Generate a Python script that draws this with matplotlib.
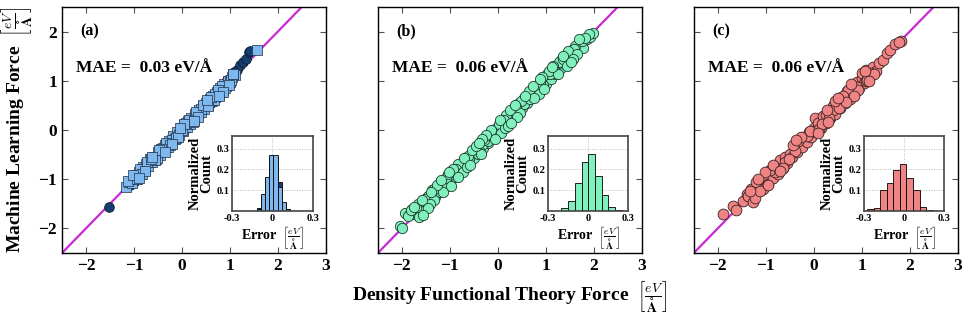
import matplotlib
matplotlib.use('Agg')
import matplotlib.pyplot as plt
import numpy as np

plt.rcParams['font.family'] = ['Liberation Serif', 'DejaVu Serif']
plt.rcParams['font.weight'] = 'bold'
plt.rcParams['axes.labelweight'] = 'bold'
plt.rcParams['mathtext.fontset'] = 'cm'

# ---- panel (a): two series, squares (light) and circles (dark)
a_sq_x = [-1.17, -1.1, -1.05, -0.98, -0.95, -0.9, -0.86, -0.82, -0.78, -0.74, -0.7, -0.66, -0.62, -0.58,
          -0.55, -0.5, -0.46, -0.42, -0.38, -0.35, -0.3, -0.27, -0.22, -0.18, -0.15, -0.1, -0.06, -0.02,
          0.02, 0.05, 0.1, 0.13, 0.17, 0.2, 0.25, 0.28, 0.32, 0.36, 0.4, 0.43, 0.47, 0.5, 0.54, 0.58,
          0.62, 0.65, 0.7, 0.73, 0.77, 0.8, 0.85, 0.88, 0.92, 0.96, 1.0, 1.04, 1.1, 1.57, -1.0, -0.8,
          -0.6, -0.4, -0.2, 0.0, 0.2, 0.4, 0.6, 0.8, 1.02, -0.88, -0.52, -0.12, 0.3, 0.7, 0.9,
          -1.12, -0.93, -0.72, -0.56, -0.33, -0.08, 0.08, 0.23, 0.45, 0.67, 0.83, 0.98, 1.07, -0.65, -0.25,
          0.15, 0.55, 0.75, -0.84, -0.44,
          -1.02, -0.76, -0.48, -0.2, 0.04, 0.34, 0.6, 0.86, 1.06, -0.9, -0.62, -0.36, -0.04, 0.26, 0.52, 0.78]
a_sq_y = [-1.15, -1.05, -1.08, -0.92, -1.0, -0.85, -0.9, -0.76, -0.82, -0.7, -0.74, -0.6, -0.66, -0.55,
          -0.6, -0.45, -0.5, -0.38, -0.42, -0.3, -0.34, -0.22, -0.26, -0.13, -0.18, -0.05, -0.1, 0.03,
          -0.02, 0.1, 0.06, 0.18, 0.13, 0.25, 0.21, 0.33, 0.28, 0.41, 0.36, 0.48, 0.43, 0.55, 0.5, 0.63,
          0.58, 0.7, 0.66, 0.78, 0.73, 0.86, 0.82, 0.93, 0.9, 1.0, 0.97, 1.07, 1.12, 1.62, -0.97, -0.79,
          -0.62, -0.37, -0.2, 0.0, 0.18, 0.42, 0.6, 0.78, 1.02, -0.8, -0.56, -0.16, 0.36, 0.74, 0.85,
          -1.04, -0.99, -0.66, -0.62, -0.27, -0.14, 0.14, 0.17, 0.51, 0.61, 0.89, 0.92, 1.13, -0.59, -0.31,
          0.21, 0.49, 0.81, -0.9, -0.38,
          -0.92, -0.84, -0.4, -0.28, 0.12, 0.26, 0.68, 0.78, 1.14, -0.98, -0.54, -0.44, 0.04, 0.18, 0.6, 0.7]
a_ci_x = [-1.53, -1.08, -1.0, -0.95, -0.85, -0.7, -0.6, -0.45, -0.3, -0.15, 0.0, 0.1, 0.25, 0.35,
          0.5, 0.6, 0.75, 0.85, 0.95, 1.08, 1.15, 1.22, 1.28, 1.33, 1.39, 1.43]
a_ci_y = [-1.57, -1.12, -1.05, -0.9, -0.92, -0.68, -0.66, -0.42, -0.36, -0.1, 0.05, 0.04, 0.3, 0.3,
          0.56, 0.55, 0.8, 0.8, 1.02, 1.18, 1.22, 1.33, 1.38, 1.45, 1.58, 1.6]

# ---- panel (b)
b_x = [-2.04, -2.0, -1.94, -1.85, -1.78, -1.72, -1.66, -1.6, -1.55, -1.5, -1.45, -1.4, -1.35, -1.3,
       -1.25, -1.2, -1.15, -1.1, -1.05, -1.0, -0.95, -0.9, -0.85, -0.8, -0.75, -0.7, -0.65, -0.6,
       -0.55, -0.5, -0.45, -0.4, -0.35, -0.3, -0.25, -0.2, -0.15, -0.1, -0.05, 0.0, 0.05, 0.1, 0.15,
       0.2, 0.25, 0.3, 0.35, 0.4, 0.45, 0.5, 0.55, 0.6, 0.65, 0.7, 0.75, 0.8, 0.85, 0.9, 0.95, 1.0,
       1.05, 1.1, 1.15, 1.2, 1.25, 1.3, 1.35, 1.4, 1.45, 1.5, 1.55, 1.6, 1.65, 1.72, 1.78, 1.85, 1.92,
       1.98, -1.5, -1.2, -0.9, -0.6, -0.3, 0.0, 0.3, 0.6, 0.9, 1.2, 1.5, -1.0, -0.5, 0.2, 0.7, 1.1,
       -0.2, 0.45, 0.95, 1.4, -1.62, -0.75, 0.1, 0.55,
       -1.88, -1.7, -1.52, -1.38, -1.22, -1.08, -0.97, -0.82, -0.68, -0.52, -0.42, -0.28, -0.12, 0.02,
       0.18, 0.32, 0.48, 0.62, 0.78, 0.88, 1.02, 1.18, 1.32, 1.48, 1.62, 1.75, 1.9, -1.32, -0.62, 0.38,
       1.28, -1.42, -0.88, -0.38, 0.12, 0.68, 1.08, 1.58, -1.12, -0.18, 0.82, 1.35,
       -1.8, -1.58, -1.34, -1.14, -0.94, -0.72, -0.54, -0.34, -0.14, 0.06, 0.26, 0.46, 0.66, 0.86,
       1.06, 1.26, 1.46, 1.66, 1.82, -1.64, -1.26, -0.84, -0.46, -0.06, 0.36, 0.76, 1.16, 1.56,
       -1.46, -1.04, -0.64, -0.24, 0.16, 0.56, 0.96, 1.36,
       -1.74, -1.4, -1.02, -0.7, -0.32, 0.04, 0.4, 0.74, 1.12, 1.44, 1.7, -1.18, -0.58, 0.22, 0.92,
       -1.56, -0.98, -0.4, 0.28, 0.88, 1.52]
b_y = [-1.96, -2.0, -1.69, -1.72, -1.6, -1.7, -1.5, -1.58, -1.43, -1.53, -1.34, -1.42, -1.26, -1.36,
       -1.16, -1.26, -1.06, -1.16, -0.96, -1.06, -0.86, -0.96, -0.76, -0.88, -0.68, -0.76, -0.58, -0.68,
       -0.48, -0.56, -0.38, -0.46, -0.28, -0.36, -0.18, -0.26, -0.08, -0.16, 0.02, -0.06, 0.14, 0.04,
       0.24, 0.14, 0.34, 0.24, 0.44, 0.34, 0.54, 0.44, 0.64, 0.54, 0.74, 0.64, 0.84, 0.74, 0.94, 0.84,
       1.04, 0.94, 1.14, 1.04, 1.22, 1.14, 1.32, 1.24, 1.42, 1.34, 1.52, 1.44, 1.62, 1.54, 1.68, 1.74,
       1.66, 1.84, 1.88, 1.98, -1.46, -1.18, -0.9, -0.58, -0.28, 0.04, 0.32, 0.62, 0.92, 1.22, 1.52,
       -0.92, -0.44, 0.28, 0.76, 1.16, -0.22, 0.42, 0.92, 1.38, -1.64, -0.78, 0.1, 0.52,
       -1.74, -1.58, -1.4, -1.22, -1.1, -0.98, -0.84, -0.7, -0.56, -0.42, -0.48, -0.2, -0.02, 0.12,
       0.3, 0.4, 0.58, 0.7, 0.88, 0.98, 1.14, 1.26, 1.42, 1.56, 1.7, 1.8, 1.95, -1.42, -0.52, 0.46,
       1.38, -1.5, -0.8, -0.44, 0.2, 0.62, 1.14, 1.64, -1.18, -0.1, 0.9, 1.44,
       -1.62, -1.42, -1.2, -1.26, -0.8, -0.86, -0.4, -0.48, 0.0, -0.06, 0.4, 0.34, 0.8, 0.74,
       1.2, 1.14, 1.6, 1.54, 1.86, -1.76, -1.12, -0.96, -0.32, -0.18, 0.5, 0.64, 1.3, 1.44,
       -1.58, -0.9, -0.76, -0.1, 0.04, 0.7, 0.84, 1.5,
       -1.56, -1.26, -0.86, -0.56, -0.18, 0.2, 0.26, 0.9, 1.28, 1.3, 1.84, -1.02, -0.72, 0.08, 1.08,
       -1.72, -1.14, -0.26, 0.14, 1.04, 1.38]

# ---- panel (c)
c_x = [-1.9, -1.69, -1.62, -1.48, -1.4, -1.37, -1.3, -1.27, -1.22, -1.17, -1.1, -1.05, -1.0, -0.95,
       -0.9, -0.85, -0.8, -0.75, -0.7, -0.65, -0.6, -0.55, -0.5, -0.45, -0.4, -0.35, -0.3, -0.25, -0.2,
       -0.15, -0.1, -0.05, 0.0, 0.02, 0.05, 0.1, 0.15, 0.2, 0.25, 0.3, 0.35, 0.4, 0.45, 0.5, 0.55, 0.6,
       0.65, 0.7, 0.75, 0.8, 0.85, 0.9, 0.95, 1.0, 1.05, 1.1, 1.15, 1.23, 1.3, 1.37, 1.45, 1.52, 1.6,
       1.69, 1.83, 1.78, -1.2, -0.8, -0.4, 0.0, 0.4, 0.8, 1.2, -0.6, 0.25, 0.6, -0.15, 0.9, 1.0, 1.1,
       -1.12, -0.92, -0.72, -0.52, -0.32, -0.08, 0.12, 0.32, 0.52, 0.72, 0.92, 1.12, -1.32, 0.62, 0.18,
       -1.02, -0.64, -0.26, 0.08, 0.44, 0.84, 1.26, -0.84, -0.44, 0.28, 0.68, 1.06,
       -1.16, -0.7, -0.36, 0.3, 0.78, 1.16, -0.96, 0.5]
c_y = [-1.71, -1.55, -1.62, -1.45, -1.3, -1.34, -1.2, -1.47, -1.38, -1.15, -1.05, -1.2, -0.98, -1.1,
       -0.85, -0.98, -0.75, -0.9, -0.62, -0.78, -0.55, -0.68, -0.48, -0.55, -0.35, -0.45, -0.28, -0.35,
       -0.15, -0.25, -0.05, -0.15, 0.05, 0.25, -0.05, 0.15, 0.05, 0.28, 0.15, 0.38, 0.25, 0.48, 0.32,
       0.58, 0.45, 0.68, 0.55, 0.8, 0.62, 0.9, 0.75, 0.98, 0.85, 1.05, 0.95, 1.22, 1.05, 1.27, 1.2,
       1.37, 1.42, 1.57, 1.62, 1.74, 1.8, 1.78, -1.05, -0.85, -0.42, -0.02, 0.4, 0.8, 1.15, -0.65,
       0.3, 0.6, -0.12, 0.88, 1.15, 1.0,
       -1.24, -0.82, -0.8, -0.6, -0.22, -0.02, 0.02, 0.24, 0.44, 0.82, 0.82, 1.02, -1.24, 0.7, 0.12,
       -0.86, -0.78, -0.14, -0.06, 0.58, 0.7, 1.14, -0.72, -0.3, 0.4, 0.56, 1.2,
       -1.0, -0.84, -0.2, 0.16, 0.94, 1.0, -1.12, 0.64]

# ---- error histograms (normalized counts)
a_edges = [-0.146, -0.116, -0.085, -0.054, -0.023, 0.008, 0.039, 0.07, 0.1, 0.131, 0.162]
a_hist_light = [0.0, 0.01, 0.08, 0.165, 0.27, 0.268, 0.118, 0.045, 0.01, 0.0]
a_hist_dark = [0.003, 0.013, 0.07, 0.16, 0.26, 0.26, 0.14, 0.04, 0.012, 0.003]
b_edges = [-0.25, -0.2, -0.15, -0.1, -0.05, 0.0, 0.05, 0.1, 0.15, 0.2, 0.25]
b_hist = [0.003, 0.015, 0.05, 0.136, 0.234, 0.272, 0.17, 0.077, 0.02, 0.005]
c_edges = [-0.276, -0.227, -0.178, -0.129, -0.08, -0.032, 0.017, 0.066, 0.115, 0.164, 0.213]
c_hist = [0.008, 0.015, 0.1, 0.137, 0.197, 0.228, 0.16, 0.1, 0.02, 0.006]

main_xticks = [-2, -1, 0, 1, 2, 3]
main_xlabels = ['\u22122', '\u22121', '0', '1', '2', '3']
main_yticks = [-2, -1, 0, 1, 2]
main_ylabels = ['\u22122', '\u22121', '0', '1', '2']

light_blue = '#7fb8ee'
dark_blue = '#163f70'
green = '#80f0bc'
pink = '#f08484'
line_col = '#c82ad2'

fig = plt.figure(figsize=(9.69, 3.17), dpi=100)
lefts = [0.064, 0.390, 0.716]
axs = [fig.add_axes([l, 0.202, 0.2722, 0.776]) for l in lefts]

unit = r'$\left[\frac{eV}{\mathbf{\AA}}\right]$'

def style_main(ax):
    ax.plot([-2.5, 3], [-2.5, 3], color=line_col, lw=1.6, zorder=1)
    ax.set_xlim(-2.5, 3)
    ax.set_ylim(-2.5, 2.5)
    ax.set_xticks(main_xticks)
    ax.set_xticklabels(main_xlabels, fontweight='bold', fontsize=12.5)
    ax.set_yticks(main_yticks)
    ax.set_yticklabels([])
    ax.tick_params(direction='in', top=True, right=True, length=4, width=0.8, color='#555555')
    for s in ax.spines.values():
        s.set_linewidth(1.0)

def make_inset(ax, edges, heights_list, colors):
    ins = ax.inset_axes([0.645, 0.17, 0.305, 0.305])
    for h, c in zip(heights_list, colors):
        ins.bar(edges[:-1], h, width=np.diff(edges), align='edge', color=c,
                edgecolor='black', linewidth=0.6, zorder=2)
    ins.set_xlim(-0.3, 0.3)
    ins.set_ylim(0, 0.36)
    ins.set_xticks([-0.3, 0, 0.3])
    ins.set_xticklabels(['-0.3', '0', '0.3'], fontweight='bold', fontsize=7.5)
    ins.set_yticks([0.1, 0.2, 0.3])
    ins.set_yticklabels(['0.1', '0.2', '0.3'], fontweight='bold', fontsize=7.5)
    ins.tick_params(length=0, pad=2)
    ins.grid(True, ls=':', color='#bbbbbb', lw=0.7, zorder=0)
    for s in ins.spines.values():
        s.set_linewidth(1.2)
        s.set_color('#444444')
    ins.set_xlabel('Error  ' + unit, fontsize=10, labelpad=1)
    ins.set_ylabel('Normalized\nCount', fontsize=10.5, labelpad=2, linespacing=0.9)
    return ins

# panel a
ax = axs[0]
style_main(ax)
ax.set_yticklabels(main_ylabels, fontweight='bold', fontsize=12.5)
ax.scatter(a_ci_x, a_ci_y, s=48, marker='o', color=dark_blue, edgecolor='#0a1a30', lw=0.6, zorder=2)
ax.scatter(a_sq_x, a_sq_y, s=48, marker='s', color=light_blue, edgecolor='#1e2e44', lw=0.5, zorder=3)
make_inset(ax, a_edges, [a_hist_dark, a_hist_light], [dark_blue, light_blue])
ax.text(-2.12, 2.0, '(a)', fontsize=11.5, va='center')
ax.text(-2.2, 1.25, 'MAE =  0.03 eV/Å', fontsize=12.5, va='center')
ax.set_ylabel('Machine Learning Force  ' + unit, fontsize=14, labelpad=3)

# panel b
ax = axs[1]
style_main(ax)
ax.scatter(b_x, b_y, s=55, marker='o', color=green, edgecolor='#1e3a30', lw=0.6, zorder=3)
make_inset(ax, b_edges, [b_hist], [green])
ax.text(-2.12, 2.0, '(b)', fontsize=11.5, va='center')
ax.text(-2.2, 1.25, 'MAE =  0.06 eV/Å', fontsize=12.5, va='center')
ax.set_xlabel('Density Functional Theory Force  ' + unit, fontsize=14, labelpad=3)

# panel c
ax = axs[2]
style_main(ax)
ax.scatter(c_x, c_y, s=60, marker='o', color=pink, edgecolor='#3a2222', lw=0.6, zorder=3)
make_inset(ax, c_edges, [c_hist], [pink])
ax.text(-2.12, 2.0, '(c)', fontsize=11.5, va='center')
ax.text(-2.2, 1.25, 'MAE =  0.06 eV/Å', fontsize=12.5, va='center')

fig.savefig('out.png', dpi=100)
